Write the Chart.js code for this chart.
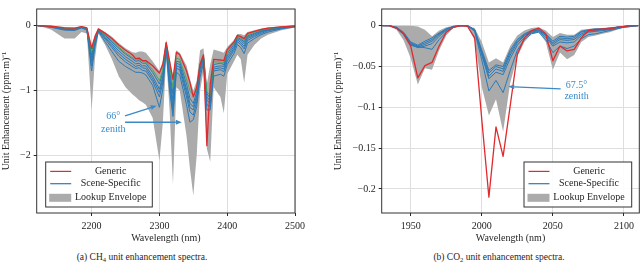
<!DOCTYPE html>
<html><head><meta charset="utf-8">
<script src="https://cdn.jsdelivr.net/npm/chart.js@4.4.0/dist/chart.umd.min.js"></script>
<style>
html,body{margin:0;padding:0;background:#fff;}
body{width:640px;height:264px;position:relative;overflow:hidden;font-family:"Liberation Serif","Times New Roman",serif;}
.wrap{position:absolute;top:0;width:320px;height:250px;}
.cap{position:absolute;top:251px;font-size:9.5px;line-height:12px;color:#262626;white-space:nowrap;transform:translateX(-50%);}
.cap sub{font-size:6.5px;vertical-align:-2px;line-height:0;}
</style></head><body>
<div class="wrap" style="left:0"><canvas id="c1" width="320" height="250"></canvas></div>
<div class="wrap" style="left:320px"><canvas id="c2" width="320" height="250"></canvas></div>
<div class="cap" style="left:142px">(a) CH<sub>4</sub> unit enhancement spectra.</div>
<div class="cap" style="left:499px">(b) CO<sub>2</sub> unit enhancement spectra.</div>
<script>
// ---------------- CH4 data ----------------
const ch4Wavelength = [2120,2140,2160,2175,2185,2193,2200,2205,2210,2220,2230,2240,2250,2260,2265,2270,2275,2280,2290,2300,2305,2310,2315,2320,2325,2330,2340,2345,2350,2355,2360,2365,2370,2375,2380,2390,2395,2400,2410,2415,2420,2425,2430,2440,2450,2460,2480,2500];
const ch4Generic = [0,-0.01,-0.035,-0.04,-0.015,-0.035,-0.35,-0.17,-0.05,-0.12,-0.2,-0.3,-0.38,-0.45,-0.51,-0.5,-0.54,-0.54,-0.62,-0.73,-0.6,-0.26,-0.55,-0.83,-0.41,-0.45,-0.7,-0.88,-1.1,-0.95,-0.6,-0.45,-1.85,-0.9,-0.52,-0.53,-0.54,-0.37,-0.25,-0.15,-0.17,-0.2,-0.12,-0.09,-0.06,-0.04,-0.02,-0.005];
const ch4SceneGreen = [0,-0.012,-0.04,-0.045,-0.02,-0.04,-0.42,-0.19,-0.06,-0.14,-0.23,-0.33,-0.42,-0.49,-0.53,-0.52,-0.55,-0.56,-0.68,-0.85,-0.68,-0.27,-0.62,-0.95,-0.5,-0.52,-0.82,-1.0,-1.08,-0.98,-0.58,-0.46,-1.02,-1.08,-0.56,-0.56,-0.57,-0.4,-0.27,-0.16,-0.19,-0.23,-0.14,-0.1,-0.07,-0.05,-0.02,-0.005];
const ch4SceneA = [0,-0.015,-0.045,-0.05,-0.02,-0.045,-0.45,-0.2,-0.065,-0.15,-0.25,-0.35,-0.44,-0.51,-0.55,-0.54,-0.58,-0.58,-0.72,-0.9,-0.72,-0.28,-0.7,-1.05,-0.55,-0.56,-0.9,-1.12,-1.2,-1.02,-0.6,-0.47,-1.05,-1.12,-0.6,-0.58,-0.6,-0.43,-0.29,-0.18,-0.21,-0.25,-0.16,-0.12,-0.08,-0.06,-0.03,-0.01];
const ch4SceneB = [0,-0.018,-0.05,-0.055,-0.025,-0.05,-0.5,-0.22,-0.07,-0.17,-0.28,-0.39,-0.48,-0.55,-0.59,-0.58,-0.62,-0.62,-0.78,-0.98,-0.78,-0.3,-0.78,-1.15,-0.58,-0.6,-0.98,-1.2,-1.25,-1.08,-0.64,-0.49,-1.1,-1.16,-0.64,-0.62,-0.63,-0.47,-0.32,-0.2,-0.23,-0.28,-0.18,-0.13,-0.09,-0.06,-0.03,-0.01];
const ch4SceneC = [0,-0.02,-0.055,-0.06,-0.03,-0.055,-0.55,-0.25,-0.075,-0.19,-0.31,-0.43,-0.52,-0.59,-0.63,-0.61,-0.65,-0.66,-0.82,-1.03,-0.82,-0.32,-0.85,-1.25,-0.62,-0.64,-1.03,-1.26,-1.3,-1.12,-0.68,-0.51,-1.15,-1.2,-0.67,-0.65,-0.67,-0.51,-0.35,-0.22,-0.26,-0.32,-0.2,-0.15,-0.1,-0.07,-0.035,-0.012];
const ch4SceneD = [0,-0.022,-0.06,-0.065,-0.03,-0.06,-0.62,-0.28,-0.08,-0.21,-0.34,-0.47,-0.56,-0.63,-0.66,-0.65,-0.69,-0.7,-0.86,-1.1,-0.88,-0.34,-0.92,-1.32,-0.66,-0.68,-1.1,-1.33,-1.38,-1.18,-0.72,-0.54,-1.22,-1.25,-0.7,-0.68,-0.71,-0.55,-0.38,-0.25,-0.29,-0.36,-0.23,-0.17,-0.12,-0.08,-0.04,-0.015];
const ch4Scene66 = [0,-0.025,-0.07,-0.075,-0.035,-0.07,-0.7,-0.32,-0.09,-0.25,-0.4,-0.55,-0.63,-0.69,-0.72,-0.72,-0.73,-0.76,-0.92,-1.26,-0.98,-0.38,-1.0,-1.4,-0.72,-0.76,-1.22,-1.49,-1.45,-1.25,-0.8,-0.58,-1.3,-1.3,-0.78,-0.75,-0.78,-0.6,-0.43,-0.29,-0.34,-0.43,-0.27,-0.2,-0.14,-0.1,-0.05,-0.02];
const ch4EnvLower = [0,-0.06,-0.2,-0.2,-0.1,-0.12,-1.3,-0.5,-0.12,-0.3,-0.52,-0.78,-0.95,-1.06,-1.1,-1.15,-1.18,-1.22,-1.42,-2.08,-1.5,-0.5,-1.3,-2.45,-0.95,-1.0,-1.7,-2.2,-2.62,-2.0,-1.0,-0.7,-1.9,-2.1,-0.95,-1.1,-1.35,-0.75,-0.55,-0.45,-0.52,-0.88,-0.45,-0.3,-0.2,-0.14,-0.07,-0.03];
const ch4EnvUpper = [0,0,-0.02,-0.03,-0.01,-0.02,-0.3,-0.14,-0.04,-0.1,-0.17,-0.27,-0.35,-0.41,-0.42,-0.4,-0.4,-0.42,-0.55,-0.7,-0.55,-0.22,-0.5,-0.78,-0.38,-0.42,-0.62,-0.82,-1.0,-0.85,-0.38,-0.35,-0.9,-0.6,-0.37,-0.4,-0.42,-0.33,-0.22,-0.13,-0.13,-0.15,-0.1,-0.07,-0.05,-0.03,-0.01,0];
const ch4XTicks = [2200,2300,2400,2500];
const ch4YTicks = [0,-1,-2];

// ---------------- CO2 data ----------------
const co2Wavelength = [1930,1935,1940,1945,1950,1955,1960,1965,1970,1975,1980,1985,1990,1995,2000,2005,2010,2015,2020,2025,2030,2035,2040,2045,2050,2055,2060,2065,2070,2075,2080,2085,2090,2095,2100,2105,2110];
const co2Generic = [0,0,-0.003,-0.01,-0.025,-0.064,-0.049,-0.045,-0.025,-0.008,-0.002,0,-0.001,-0.015,-0.115,-0.21,-0.124,-0.16,-0.098,-0.035,-0.015,-0.006,-0.003,-0.01,-0.043,-0.025,-0.031,-0.029,-0.015,-0.006,-0.005,-0.004,-0.004,-0.002,-0.001,0,0];
const co2SceneA = [0,0,-0.002,-0.008,-0.02,-0.024,-0.019,-0.015,-0.009,-0.004,-0.001,0,0,-0.005,-0.03,-0.055,-0.048,-0.05,-0.03,-0.017,-0.01,-0.006,-0.005,-0.01,-0.019,-0.013,-0.014,-0.013,-0.007,-0.005,-0.004,-0.004,-0.003,-0.002,-0.001,0,0];
const co2SceneB = [0,0,-0.002,-0.009,-0.021,-0.025,-0.021,-0.017,-0.01,-0.004,-0.001,0,0,-0.005,-0.032,-0.058,-0.05,-0.053,-0.033,-0.019,-0.011,-0.007,-0.005,-0.011,-0.021,-0.015,-0.016,-0.015,-0.008,-0.006,-0.005,-0.004,-0.003,-0.002,-0.001,0,0];
const co2SceneC = [0,0,-0.003,-0.01,-0.022,-0.026,-0.023,-0.019,-0.011,-0.005,-0.001,0,0,-0.006,-0.034,-0.062,-0.053,-0.056,-0.036,-0.021,-0.012,-0.008,-0.006,-0.012,-0.023,-0.017,-0.018,-0.017,-0.01,-0.007,-0.006,-0.005,-0.004,-0.002,-0.001,0,0];
const co2SceneD = [0,0,-0.003,-0.01,-0.023,-0.027,-0.025,-0.022,-0.013,-0.006,-0.001,0,0,-0.006,-0.036,-0.065,-0.057,-0.06,-0.04,-0.024,-0.014,-0.009,-0.007,-0.014,-0.025,-0.02,-0.021,-0.02,-0.012,-0.008,-0.007,-0.006,-0.005,-0.003,-0.002,-0.001,0];
const co2Scene675 = [0,0,-0.003,-0.011,-0.024,-0.026,-0.027,-0.029,-0.017,-0.008,-0.002,0,0,-0.007,-0.042,-0.08,-0.067,-0.082,-0.055,-0.03,-0.017,-0.01,-0.008,-0.017,-0.033,-0.025,-0.028,-0.025,-0.016,-0.011,-0.01,-0.008,-0.006,-0.004,-0.002,-0.001,0];
const co2EnvLower = [0,-0.001,-0.005,-0.018,-0.04,-0.072,-0.052,-0.054,-0.03,-0.012,-0.003,-0.001,-0.001,-0.018,-0.075,-0.11,-0.09,-0.13,-0.07,-0.038,-0.02,-0.01,-0.008,-0.02,-0.054,-0.033,-0.041,-0.036,-0.02,-0.014,-0.012,-0.01,-0.008,-0.005,-0.002,-0.001,0];
const co2EnvUpper = [0,0,0,0,0,-0.001,-0.005,-0.013,-0.006,-0.002,0,0,0,-0.003,-0.02,-0.045,-0.04,-0.045,-0.025,-0.012,-0.006,-0.003,-0.002,-0.006,-0.014,-0.009,-0.011,-0.011,-0.005,-0.004,-0.003,-0.003,-0.002,-0.001,0,0,0];
const co2XTicks = [1950,2000,2050,2100];
const co2YTicks = [0,-0.05,-0.1,-0.15,-0.2];

const legendLabels = ['Generic','Scene-Specific','Lookup Envelope'];
const xTitle = 'Wavelength (nm)';
const yTitle = 'Unit Enhancement (ppm\u00b7m)\u207b\u00b9';

// ---------------- styling ----------------
const FONT = '"Liberation Serif","Times New Roman",serif';
const RED = '#e02a2e', BLUE = '#2a7ab8', GREEN = '#3aa64a', GRAY = '#ababab';
const INK = '#262626', GRID = '#dedede', NOTE = '#3b8ac6';
Chart.defaults.font.family = FONT;

const pts = (xs, ys) => xs.map((x, i) => ({x: x, y: ys[i]}));
const minusFmt = v => v === 0 ? '0' : (v < 0 ? '\u2212' + Math.abs(v) : String(v));

function buildDatasets(wl, generic, scenes, greens, lower, upper) {
  const ds = [{label: legendLabels[0], data: pts(wl, generic), borderColor: RED, borderWidth: 1.3}];
  greens.forEach(g => ds.push({label: 'green', data: pts(wl, g), borderColor: GREEN, borderWidth: 0.8}));
  scenes.forEach(s => ds.push({label: legendLabels[1], data: pts(wl, s), borderColor: BLUE, borderWidth: 1}));
  ds.push({label: legendLabels[2], data: pts(wl, lower), borderColor: 'rgba(0,0,0,0)', borderWidth: 0, backgroundColor: GRAY, fill: '+1'});
  ds.push({label: 'upper', data: pts(wl, upper), borderColor: 'rgba(0,0,0,0)', borderWidth: 0, fill: false});
  return ds;
}

const frame = {
  id: 'frame',
  afterDatasetsDraw(chart) {
    const {ctx, chartArea: a} = chart;
    ctx.save();
    ctx.strokeStyle = '#333'; ctx.lineWidth = 1;
    ctx.strokeRect(a.left, a.top, a.right - a.left, a.bottom - a.top);
    ctx.restore();
  }
};

const arrowNotes = {
  id: 'arrowNotes',
  afterDatasetsDraw(chart, args, o) {
    if (!o || !o.texts) return;
    const {ctx} = chart; const sx = chart.scales.x, sy = chart.scales.y;
    ctx.save();
    ctx.fillStyle = NOTE; ctx.strokeStyle = NOTE;
    ctx.font = '10px ' + FONT; ctx.textAlign = 'center'; ctx.textBaseline = 'middle';
    o.texts.forEach(t => ctx.fillText(t.text, sx.getPixelForValue(t.x), sy.getPixelForValue(t.y)));
    o.arrows.forEach(a => {
      const x1 = sx.getPixelForValue(a.from[0]), y1 = sy.getPixelForValue(a.from[1]);
      const x2 = sx.getPixelForValue(a.to[0]), y2 = sy.getPixelForValue(a.to[1]);
      const ang = Math.atan2(y2 - y1, x2 - x1), L = 6, W = 2.4;
      const bx = x2 - L * Math.cos(ang), by = y2 - L * Math.sin(ang);
      ctx.lineWidth = 1.3;
      ctx.beginPath(); ctx.moveTo(x1, y1); ctx.lineTo(bx, by); ctx.stroke();
      ctx.beginPath();
      ctx.moveTo(x2, y2);
      ctx.lineTo(bx + W * Math.sin(ang), by - W * Math.cos(ang));
      ctx.lineTo(bx - W * Math.sin(ang), by + W * Math.cos(ang));
      ctx.closePath(); ctx.fill();
    });
    ctx.restore();
  }
};

const boxLegend = {
  id: 'boxLegend',
  afterDraw(chart, args, o) {
    if (!o || !o.width) return;
    const {ctx, chartArea: a} = chart;
    const w = o.width, h = o.height;
    const x0 = o.side === 'left' ? a.left + o.inset : a.right - o.inset - w;
    const y0 = a.bottom - o.insetBottom - h;
    ctx.save();
    ctx.fillStyle = 'rgba(255,255,255,0.9)';
    ctx.fillRect(x0, y0, w, h);
    ctx.strokeStyle = '#333'; ctx.lineWidth = 1;
    ctx.strokeRect(x0, y0, w, h);
    const rows = [9.4, 21.7, 35.8];
    ctx.lineWidth = 1.2;
    ctx.strokeStyle = RED; ctx.beginPath(); ctx.moveTo(x0 + 4.5, y0 + rows[0]); ctx.lineTo(x0 + 25.5, y0 + rows[0]); ctx.stroke();
    ctx.strokeStyle = BLUE; ctx.beginPath(); ctx.moveTo(x0 + 4.5, y0 + rows[1]); ctx.lineTo(x0 + 25.5, y0 + rows[1]); ctx.stroke();
    ctx.fillStyle = GRAY; ctx.fillRect(x0 + 3.5, y0 + rows[2] - 4, 22, 8);
    ctx.fillStyle = INK; ctx.font = '10px ' + FONT; ctx.textAlign = 'center'; ctx.textBaseline = 'middle';
    legendLabels.forEach((t, i) => ctx.fillText(t, x0 + o.textCenter, y0 + rows[i]));
    ctx.restore();
  }
};

function makeOptions(c) {
  const gridCfg = {color: GRID, lineWidth: 1, drawTicks: true, tickLength: 3, tickColor: INK, tickWidth: 1};
  return {
    responsive: false, animation: false, events: [],
    layout: {padding: {top: 1, right: c.padRight, left: 0, bottom: 0}},
    elements: {point: {radius: 0}, line: {tension: 0, borderJoinStyle: 'round'}},
    plugins: {
      legend: {display: false}, tooltip: {enabled: false},
      boxLegend: c.legend, arrowNotes: c.notes
    },
    scales: {
      x: {
        type: 'linear', min: c.xMin, max: c.xMax,
        afterBuildTicks: s => { s.ticks = c.xTicks.map(v => ({value: v})); },
        afterFit: s => { s.height = 37; },
        grid: gridCfg, border: {display: false},
        ticks: {color: INK, font: {size: 10, family: FONT}, padding: 4, maxRotation: 0, autoSkip: false, callback: v => String(v)},
        title: {display: true, text: xTitle, color: INK, font: {size: 10, family: FONT}, padding: {top: 0, bottom: 6}}
      },
      y: {
        type: 'linear', min: c.yMin, max: c.yMax,
        afterBuildTicks: s => { s.ticks = c.yTicks.map(v => ({value: v})); },
        afterFit: s => { s.width = c.yWidth; },
        grid: gridCfg, border: {display: false},
        ticks: {color: INK, font: {size: 10, family: FONT}, padding: 3, callback: minusFmt},
        title: {display: true, text: yTitle, color: INK, font: {size: 10, family: FONT}, padding: {top: c.yTitlePad, bottom: 0}}
      }
    }
  };
}

new Chart(document.getElementById('c1'), {
  type: 'line',
  data: {datasets: buildDatasets(ch4Wavelength, ch4Generic,
    [ch4SceneA, ch4SceneB, ch4SceneC, ch4SceneD, ch4Scene66], [ch4SceneGreen], ch4EnvLower, ch4EnvUpper)},
  options: makeOptions({
    padRight: 25, xMin: 2119, xMax: 2500, yMin: -2.889, yMax: 0.256, yWidth: 36.7, yTitlePad: 0,
    xTicks: ch4XTicks, yTicks: ch4YTicks,
    legend: {side: 'left', inset: 9, insetBottom: 6, width: 106.6, height: 45, textCenter: 65},
    notes: {
      texts: [{text: '66\u00b0', x: 2232, y: -1.40}, {text: 'zenith', x: 2232, y: -1.595}],
      arrows: [{from: [2249.3, -1.393], to: [2296, -1.235]}, {from: [2249.3, -1.49], to: [2333, -1.49]}]
    }
  }),
  plugins: [frame, arrowNotes, boxLegend]
});

new Chart(document.getElementById('c2'), {
  type: 'line',
  data: {datasets: buildDatasets(co2Wavelength, co2Generic,
    [co2SceneA, co2SceneB, co2SceneC, co2SceneD, co2Scene675], [], co2EnvLower, co2EnvUpper)},
  options: makeOptions({
    padRight: 0.7, xMin: 1929.6, xMax: 2110.8, yMin: -0.2294, yMax: 0.0204, yWidth: 61.7, yTitlePad: 12,
    xTicks: co2XTicks, yTicks: co2YTicks,
    legend: {side: 'right', inset: 7.6, insetBottom: 6, width: 107.7, height: 45, textCenter: 65},
    notes: {
      texts: [{text: '67.5\u00b0', x: 2066.7, y: -0.0726}, {text: 'zenith', x: 2066.7, y: -0.0864}],
      arrows: [{from: [2055.5, -0.0773], to: [2018.6, -0.0746]}]
    }
  }),
  plugins: [frame, arrowNotes, boxLegend]
});
</script>
</body></html>
